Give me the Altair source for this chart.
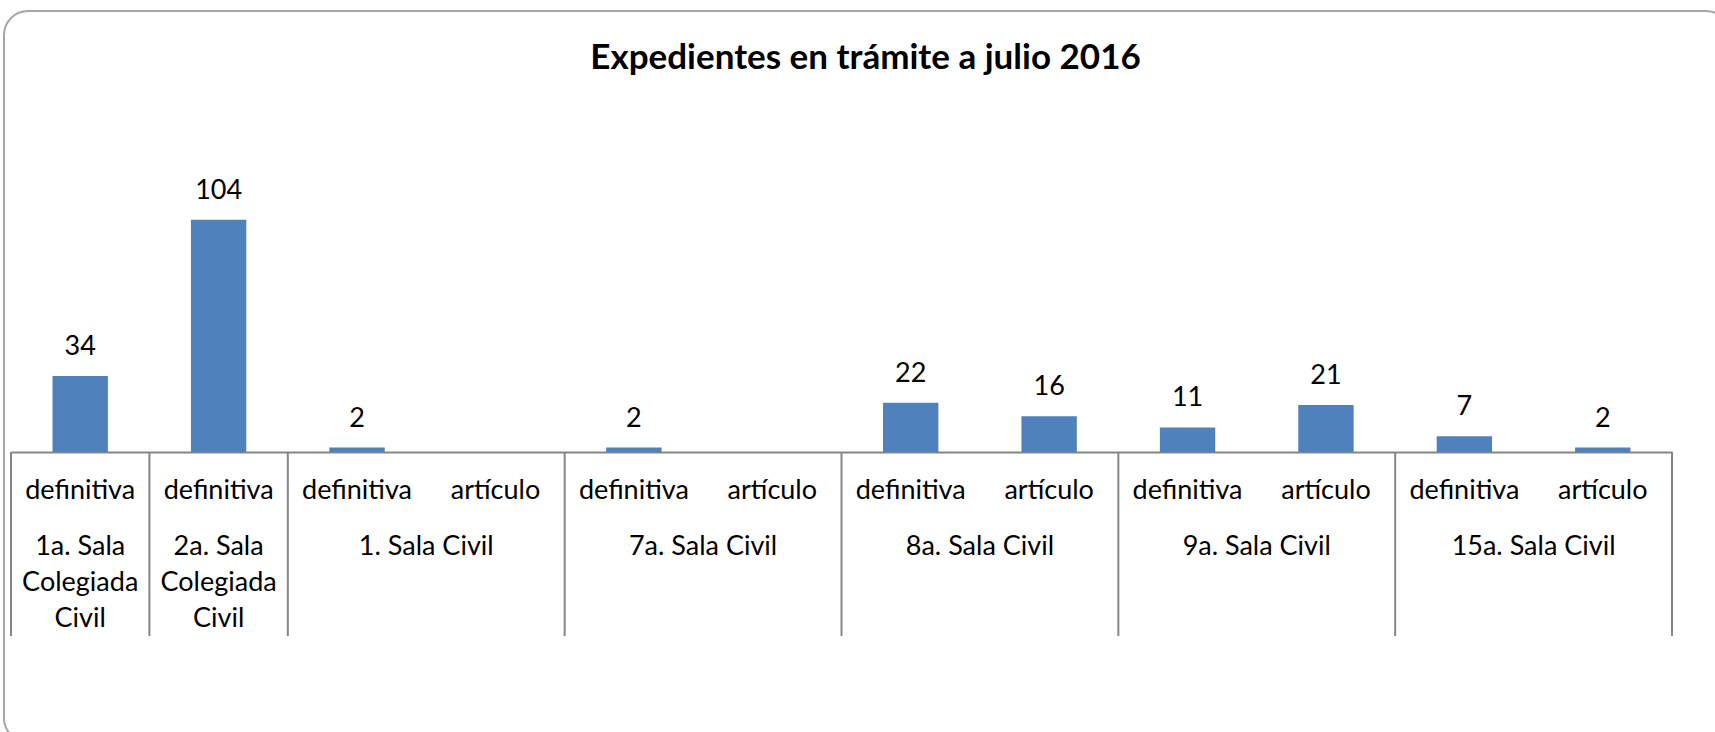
import altair as alt
import pandas as pd

title_text = "Expedientes en trámite a julio 2016"

groups = [
    "1a. Sala Colegiada Civil",
    "2a. Sala Colegiada Civil",
    "1. Sala Civil",
    "7a. Sala Civil",
    "8a. Sala Civil",
    "9a. Sala Civil",
    "15a. Sala Civil",
]
group_lines = [
    ["1a. Sala", "Colegiada", "Civil"],
    ["2a. Sala", "Colegiada", "Civil"],
    ["1. Sala Civil"],
    ["7a. Sala Civil"],
    ["8a. Sala Civil"],
    ["9a. Sala Civil"],
    ["15a. Sala Civil"],
]
subcats = [
    ["definitiva"],
    ["definitiva"],
    ["definitiva", "artículo"],
    ["definitiva", "artículo"],
    ["definitiva", "artículo"],
    ["definitiva", "artículo"],
    ["definitiva", "artículo"],
]
values = [
    [34],
    [104],
    [2, None],
    [2, None],
    [22, 16],
    [11, 21],
    [7, 2],
]

FONT = "Lato"
BAR = "#4F81BD"
GRID = "#868686"

rows = []
slot_order = []
for g, subs, vals in zip(groups, subcats, values):
    for s, v in zip(subs, vals):
        key = f"{g}|{s}"
        slot_order.append(key)
        rows.append({"slot": key, "group": g, "sub": s, "value": v})
df = pd.DataFrame(rows)

grp_rows = []
for g, lines, subs in zip(groups, group_lines, subcats):
    grp_rows.append({
        "first": f"{g}|{subs[0]}",
        "last": f"{g}|{subs[-1]}",
        "n": len(subs),
        "label": lines,
    })
gdf = pd.DataFrame(grp_rows)

W, H = 1661, 268
xscale = alt.Scale(domain=slot_order, paddingInner=0, paddingOuter=0)
yscale = alt.Scale(domain=[0, 120])

xaxis = alt.Axis(
    title=None,
    ticks=False,
    tickSize=0,
    domain=True,
    domainColor=GRID,
    domainWidth=2,
    labelExpr="split(datum.label, '|')[1]",
    labelAngle=0,
    labelAlign="center",
    labelBaseline="middle",
    labelPadding=38,
    labelFont=FONT,
    labelFontSize=27,
    labelColor="black",
    labelLimit=0,
    labelOverlap=False,
    grid=False,
)

base = alt.Chart(df)

bars = base.mark_bar(color=BAR, width=alt.RelativeBandSize(0.4)).encode(
    x=alt.X("slot:N", sort=slot_order, scale=xscale, axis=xaxis),
    y=alt.Y("value:Q", scale=yscale, axis=None),
)

labels = base.transform_filter("datum.value != null").mark_text(
    font=FONT, fontSize=27, color="black", baseline="middle", dy=-29
).encode(
    x=alt.X("slot:N", sort=slot_order, scale=xscale, axis=xaxis),
    y=alt.Y("value:Q", scale=yscale, axis=None),
    text=alt.Text("value:Q"),
)

gchart = alt.Chart(gdf)

dividers = gchart.mark_rule(color=GRID, strokeWidth=2).encode(
    x=alt.X("first:N", sort=slot_order, scale=xscale, bandPosition=0, axis=xaxis),
    y=alt.value(H),
    y2=alt.value(H + 184),
)
end_divider = gchart.transform_filter(
    alt.datum.last == slot_order[-1]
).mark_rule(color=GRID, strokeWidth=2).encode(
    x=alt.X("last:N", sort=slot_order, scale=xscale, bandPosition=1, axis=xaxis),
    y=alt.value(H),
    y2=alt.value(H + 184),
)

glabels_two = gchart.transform_filter("datum.n == 2").mark_text(
    font=FONT, fontSize=27, color="black", baseline="middle", lineHeight=36
).encode(
    x=alt.X("first:N", sort=slot_order, scale=xscale, bandPosition=1, axis=xaxis),
    y=alt.value(H + 95),
    text="label",
)
glabels_one = gchart.transform_filter("datum.n == 1").mark_text(
    font=FONT, fontSize=27, color="black", baseline="middle", lineHeight=36
).encode(
    x=alt.X("first:N", sort=slot_order, scale=xscale, bandPosition=0.5, axis=xaxis),
    y=alt.value(H + 95),
    text="label",
)

title = alt.Chart(pd.DataFrame({"t": [title_text]})).mark_text(
    font=FONT, fontSize=35, fontWeight="bold", color="black",
    baseline="alphabetic", align="center"
).encode(
    x=alt.value(854.5),
    y=alt.value(69 - 184),
    text="t",
)

border = alt.Chart(pd.DataFrame({"t": [0]})).mark_rect(
    filled=False, stroke="#A6A6A6", strokeWidth=2, cornerRadius=24
).encode(
    x=alt.value(-7),
    x2=alt.value(1730 - 11),
    y=alt.value(11 - 184),
    y2=alt.value(742 - 184),
)

chart = alt.layer(
    bars, border, labels, dividers, end_divider, glabels_two, glabels_one, title
).properties(
    width=W,
    height=H,
    autosize=alt.AutoSizeParams(type="none"),
    padding={"left": 11, "top": 184, "right": 1715 - 11 - W, "bottom": 732 - 184 - H},
    background="white",
).configure_view(stroke=None)

chart.save("out.html", embed_options={"renderer": "svg", "actions": False})
